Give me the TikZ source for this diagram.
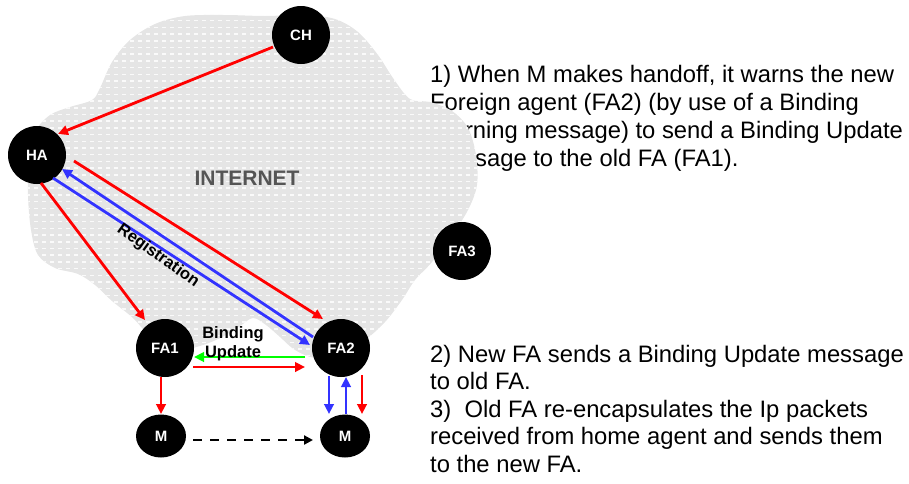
\documentclass[tikz,border=0pt]{standalone}
\usepackage{fontspec}
\setmainfont{Liberation Sans}
\usetikzlibrary{arrows.meta,calc,shapes.geometric}
\definecolor{cloudgray}{RGB}{229,229,229}
\definecolor{dashwhite}{RGB}{250,250,250}
\definecolor{myred}{RGB}{255,0,0}
\definecolor{myblue}{RGB}{51,51,255}
\definecolor{mygreen}{RGB}{0,255,0}
\definecolor{labelgray}{RGB}{85,85,85}
\begin{document}
\begin{tikzpicture}[x=1pt,y=-1pt,
  bodytext/.style={anchor=base west, inner sep=0pt, font=\fontsize{23.8}{28}\selectfont},
  agent/.style={circle, fill=black, minimum size=58pt, inner sep=0pt, text=white, font=\bfseries\fontsize{15}{15}\selectfont},
  mobile/.style={ellipse, fill=black, minimum width=50pt, minimum height=43pt, inner sep=0pt, text=white, font=\bfseries\fontsize{15}{15}\selectfont},
  tip/.style={-{Triangle[length=10pt,width=9.5pt]}},
  redarrow/.style={tip, draw=myred, line width=2.8pt},
  bluearrow/.style={tip, draw=myblue, line width=2.8pt},
  greenarrow/.style={tip, draw=mygreen, line width=2.8pt},
  dasharrow/.style={-{Triangle[length=9pt,width=9pt]}, draw=black, line width=2.5pt, dash pattern=on 9pt off 8pt},
  boldlabel/.style={inner sep=0pt, font=\bfseries\fontsize{16.5}{19}\selectfont}
]
\useasboundingbox (0,0) rectangle (909,483);

% explanatory text (partly hidden by the cloud)
\node[bodytext] (t1a) at (430,82) {1) When M makes handoff, it warns the new};
\node[bodytext] (t1b) at (430,110) {Foreign agent (FA2) (by use of a Binding};
\node[bodytext] (t1c) at (430,138) {Warning message) to send a Binding Update};
\node[bodytext] (t1d) at (430,166) {message to the old FA (FA1).};

\node[bodytext] (t2a) at (430,362) {2) New FA sends a Binding Update message};
\node[bodytext] (t2b) at (430,389.5) {to old FA.};
\node[bodytext] (t2c) at (430,417) {3)~ Old FA re-encapsulates the Ip packets};
\node[bodytext] (t2d) at (430,444.5) {received from home agent and sends them};
\node[bodytext] (t2e) at (430,472) {to the new FA.};

% cloud
\path[fill=cloudgray, path picture={
    \foreach \yy in {14,20.7,...,370}
      \draw[dashwhite, line width=1.5pt, dash pattern=on 4pt off 4pt] (18,\yy) -- (495,\yy);
  }]
  plot[smooth cycle, tension=0.55] coordinates {
  (100,88) (112,62) (130,40) (155,24) (185,16) (225,15) (265,16) (305,15)
  (335,19) (358,32) (378,55) (393,78) (410,99) (430,102) (452,111) (468,128)
  (476,155) (477,185) (468,210) (452,235) (432,262) (415,280) (402,300)
  (385,322) (365,340) (340,355) (315,358) (295,350) (280,337) (266,325)
  (253,318) (240,326) (222,337) (203,345) (178,350) (152,338) (133,318)
  (112,301) (95,285) (78,274) (55,268) (38,255) (31,230) (28,195) (29,160)
  (35,132) (50,115) (70,107) (92,100)};

\node[font=\bfseries\fontsize{21}{21}\selectfont, text=labelgray, inner sep=0pt] (inet) at (247,178) {INTERNET};

% nodes
\node[agent] (CH) at (301,35) {CH};
\node[agent] (HA) at (37,155) {HA};
\node[agent] (FA3) at (462,251) {FA3};
\node[agent] (FA1) at (165,348) {FA1};
\node[agent] (FA2) at (341,348) {FA2};
\node[mobile] (M1) at (161,436) {M};
\node[mobile] (M2) at (345,436) {M};

% connectors
\draw[redarrow] ($(CH)+(-28,12)$) -- ($(HA)+(21,-21)$);
\draw[redarrow] ($(HA)+(4,28)$) -- ($(FA1)+(-20,-28)$);
\draw[redarrow] ($(HA)+(37,6)$) -- ($(FA2)+(-18,-29)$);
\draw[bluearrow] ($(FA2)+(-28,-11)$) -- ($(HA)+(25,14)$);
\draw[bluearrow] ($(HA)+(16,23)$) -- ($(FA2)+(-31,-3)$);
\draw[greenarrow] ($(FA2)+(-36,9)$) -- ($(FA1)+(29,9)$);
\draw[redarrow] ($(FA1)+(28,19)$) -- ($(FA2)+(-36,19)$);
\draw[redarrow] ($(FA1)+(-4,29)$) -- ($(M1)+(0,-22)$);
\draw[bluearrow] ($(FA2)+(-12,28)$) -- ($(M2)+(-16,-22)$);
\draw[bluearrow] ($(M2)+(1,-22)$) -- ($(FA2)+(5,29)$);
\draw[redarrow] ($(FA2)+(21,27)$) -- ($(M2)+(17,-22)$);
\draw[dasharrow] ($(M1)+(32,4)$) -- ($(M2)+(-32,4)$);

% labels
\node[boldlabel, rotate=-35.5] (reg) at (158,256) {Registration};
\node[boldlabel, align=center] (bu) at (233,344) {Binding\\Update};
\end{tikzpicture}
\end{document}
